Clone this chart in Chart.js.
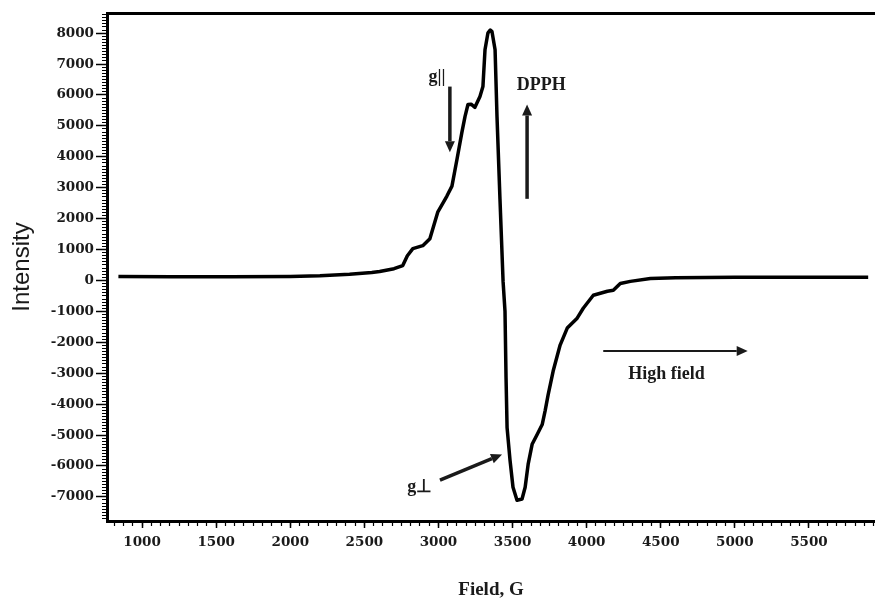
<!DOCTYPE html>
<html>
<head>
<meta charset="utf-8">
<script src="https://cdn.jsdelivr.net/npm/chart.js@4.4.0/dist/chart.umd.min.js"></script>
<style>
  html, body { margin: 0; padding: 0; background: #fff; }
  #wrap { width: 875px; height: 605px; }
</style>
</head>
<body>
<div id="wrap"><canvas id="epr" width="875" height="605"></canvas></div>
<script>
// EPR spectrum: field (G) and intensity (a.u.)
const fieldG = [
  840, 1200, 1600, 2000, 2200, 2400, 2550, 2603, 2700, 2759, 2790, 2827, 2894, 2942,
  2970, 2996, 3030, 3057, 3091, 3125, 3158, 3179, 3199, 3220, 3246, 3280, 3300, 3314,
  3334, 3350, 3361, 3382, 3395, 3415, 3436, 3449, 3456, 3463, 3483, 3503, 3530, 3564,
  3585, 3605, 3632, 3666, 3700, 3720, 3740, 3774, 3821, 3869, 3936, 3977, 4045, 4140,
  4180, 4227, 4295, 4430, 4600, 5000, 5500, 5900
];
const intensity = [
  130, 120, 120, 130, 150, 200, 260, 290, 380, 480, 800, 1030, 1125, 1350,
  1800, 2220, 2500, 2730, 3050, 3920, 4790, 5300, 5690, 5700, 5600, 5950, 6270, 7460,
  8010, 8100, 8050, 7460, 5300, 2640, -30, -1000, -3150, -4760, -5820, -6690, -7110, -7070,
  -6690, -5950, -5300, -4980, -4660, -4210, -3700, -2930, -2090, -1540, -1220, -900, -480, -350,
  -320, -100, -30, 60, 90, 100, 100, 100
];

const fieldTicks = [1000, 1500, 2000, 2500, 3000, 3500, 4000, 4500, 5000, 5500];
const intensityTicks = [8000, 7000, 6000, 5000, 4000, 3000, 2000, 1000, 0,
  -1000, -2000, -3000, -4000, -5000, -6000, -7000];

const fieldRange = [763, 5946];
const intensityRange = [-7780, 8650];
const fieldMinorStep = 62.5;
const intensityMinorStep = 100;

// labels and arrows, placed in data units
const notes = [
  { text: "g||", x: 2990, y: 6560 },
  { text: "DPPH", x: 3693, y: 6300 },
  { text: "g\u22A5", x: 2874, y: -6690 },
  { text: "High field", x: 4539, y: -3050 },
];
const arrows = [
  { from: [3077, 6270], to: [3077, 4150], width: 3.5 },
  { from: [3598, 2640], to: [3598, 5690], width: 3.5 },
  { from: [3010, -6460], to: [3429, -5630], width: 3.5 },
  { from: [4112, -2280], to: [5087, -2280], width: 2 },
];

const tickFont = { family: "'DejaVu Serif', serif", size: 13.5, weight: "bold" };
const ink = "#1a1a1a";

function listTicks(values) {
  return (scale) => {
    scale.ticks = values.map((v) => ({ value: v }));
  };
}

function minorTicks(step) {
  return (scale) => {
    const out = [];
    for (let v = Math.ceil(scale.min / step) * step; v <= scale.max; v += step) {
      out.push({ value: v });
    }
    scale.ticks = out;
  };
}

function drawArrow(ctx, x1, y1, x2, y2, w) {
  const ang = Math.atan2(y2 - y1, x2 - x1);
  const head = 11, half = 5;
  const bx = x2 - Math.cos(ang) * head;
  const by = y2 - Math.sin(ang) * head;
  ctx.lineWidth = w;
  ctx.beginPath();
  ctx.moveTo(x1, y1);
  ctx.lineTo(bx, by);
  ctx.stroke();
  ctx.beginPath();
  ctx.moveTo(x2, y2);
  ctx.lineTo(bx + Math.sin(ang) * half, by - Math.cos(ang) * half);
  ctx.lineTo(bx - Math.sin(ang) * half, by + Math.cos(ang) * half);
  ctx.closePath();
  ctx.fill();
}

const notesPlugin = {
  id: "notes",
  afterDatasetsDraw(chart) {
    const { ctx } = chart;
    const sx = chart.scales.x;
    const sy = chart.scales.y;
    ctx.save();
    ctx.fillStyle = ink;
    ctx.strokeStyle = ink;
    ctx.font = "bold 18px 'Liberation Serif', serif";
    ctx.textAlign = "center";
    ctx.textBaseline = "middle";
    notes.forEach((n) => {
      ctx.fillText(n.text, sx.getPixelForValue(n.x), sy.getPixelForValue(n.y));
    });
    arrows.forEach((a) => {
      drawArrow(
        ctx,
        sx.getPixelForValue(a.from[0]), sy.getPixelForValue(a.from[1]),
        sx.getPixelForValue(a.to[0]), sy.getPixelForValue(a.to[1]),
        a.width
      );
    });
    ctx.restore();
  },
};

const points = fieldG.map((f, i) => ({ x: f, y: intensity[i] }));

new Chart(document.getElementById("epr").getContext("2d"), {
  type: "line",
  data: {
    datasets: [
      {
        data: points,
        borderColor: "#000",
        borderWidth: 3.5,
        borderJoinStyle: "round",
        pointRadius: 0,
        tension: 0,
        xAxisID: "x",
        yAxisID: "y",
      },
    ],
  },
  options: {
    responsive: false,
    animation: false,
    events: [],
    layout: { padding: { top: 13, left: 0, right: 0, bottom: 0 } },
    plugins: { legend: { display: false }, tooltip: { enabled: false } },
    scales: {
      x: {
        type: "linear",
        position: "bottom",
        weight: 1,
        min: fieldRange[0],
        max: fieldRange[1],
        afterBuildTicks: listTicks(fieldTicks),
        afterFit: (s) => { s.height = 84; },
        border: { display: true, width: 3, color: "#000" },
        grid: { drawOnChartArea: false, drawTicks: true, tickLength: 7, tickWidth: 1.5, tickColor: "#000" },
        ticks: {
          autoSkip: false,
          maxRotation: 0,
          padding: 6,
          color: ink,
          font: tickFont,
          callback: (v) => String(v),
        },
        title: {
          display: true,
          text: "Field, G",
          color: ink,
          font: { family: "'Liberation Serif', serif", size: 19, weight: "bold" },
          padding: { top: 0, bottom: 4 },
        },
      },
      xMinor: {
        type: "linear",
        position: "bottom",
        weight: 0,
        min: fieldRange[0],
        max: fieldRange[1],
        afterBuildTicks: minorTicks(fieldMinorStep),
        afterFit: (s) => { s.height = 0; },
        border: { display: false },
        grid: { drawOnChartArea: false, drawTicks: true, tickLength: 5, tickWidth: 1.2, tickColor: "#000" },
        ticks: { display: false },
      },
      xTop: {
        type: "linear",
        position: "top",
        min: fieldRange[0],
        max: fieldRange[1],
        afterFit: (s) => { s.height = 0; },
        border: { display: true, width: 3, color: "#000" },
        grid: { drawOnChartArea: false, drawTicks: false },
        ticks: { display: false },
      },
      y: {
        type: "linear",
        position: "left",
        weight: 1,
        min: intensityRange[0],
        max: intensityRange[1],
        afterBuildTicks: listTicks(intensityTicks),
        afterFit: (s) => { s.width = 107; },
        border: { display: true, width: 3, color: "#000" },
        grid: { drawOnChartArea: false, drawTicks: true, tickLength: 11, tickWidth: 1.5, tickColor: "#000" },
        ticks: {
          autoSkip: false,
          padding: 2,
          color: ink,
          font: tickFont,
          callback: (v) => String(v),
        },
        title: {
          display: true,
          text: "Intensity",
          color: ink,
          font: { family: "'Liberation Sans', sans-serif", size: 24 },
          padding: { top: 8, bottom: 0 },
        },
      },
      yMinor: {
        type: "linear",
        position: "left",
        weight: 0,
        min: intensityRange[0],
        max: intensityRange[1],
        afterBuildTicks: minorTicks(intensityMinorStep),
        afterFit: (s) => { s.width = 0; },
        border: { display: false },
        grid: { drawOnChartArea: false, drawTicks: true, tickLength: 5, tickWidth: 1, tickColor: "#000" },
        ticks: { display: false },
      },
    },
  },
  plugins: [notesPlugin],
});
</script>
</body>
</html>
